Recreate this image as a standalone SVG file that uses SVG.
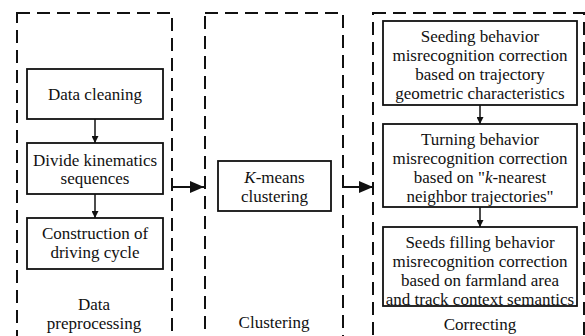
<svg xmlns="http://www.w3.org/2000/svg" width="585" height="336" viewBox="0 0 585 336">
<style>
.grp{fill:none;stroke:#111;stroke-width:2;stroke-dasharray:13 7}
.box{fill:#fff;stroke:#111;stroke-width:1.8}
.t{font-family:'Liberation Serif',serif;font-size:17px;fill:#111;text-anchor:middle}
.c{fill:none;stroke:#111;stroke-width:1.5}
.c2{fill:none;stroke:#111;stroke-width:2}
</style>
<defs>
<marker id="sm" viewBox="0 0 10 10" refX="10" refY="5" markerWidth="7" markerHeight="7" markerUnits="userSpaceOnUse" orient="auto"><path d="M0,0 L10,5 L0,10 z" fill="#111"/></marker>
<marker id="big" viewBox="0 0 10 10" refX="10" refY="5" markerWidth="14" markerHeight="12" markerUnits="userSpaceOnUse" orient="auto" preserveAspectRatio="none"><path d="M0,0 L10,5 L0,10 z" fill="#111"/></marker>
</defs>
<rect width="585" height="336" fill="#fff"/>
<g id="group-preprocessing">
<rect class="grp" x="17" y="13" width="155" height="340"/>
<text class="t" x="94" y="310">Data</text>
<text class="t" x="94" y="329">preprocessing</text>
</g>
<g id="group-clustering">
<rect class="grp" x="205" y="13" width="138" height="340"/>
<text class="t" x="274" y="328">Clustering</text>
</g>
<g id="group-correcting">
<rect class="grp" x="373" y="13" width="211" height="340"/>
<text class="t" x="480" y="330">Correcting</text>
</g>
<g id="data-cleaning">
<rect class="box" x="27" y="69" width="136" height="50"/>
<text class="t" x="95" y="100">Data cleaning</text>
</g>
<g id="divide-kinematics">
<rect class="box" x="27" y="143" width="136" height="51"/>
<text class="t" x="95" y="166">Divide kinematics</text>
<text class="t" x="95" y="184">sequences</text>
</g>
<g id="construction">
<rect class="box" x="27" y="218" width="136" height="51"/>
<text class="t" x="95" y="239">Construction of</text>
<text class="t" x="95" y="258">driving cycle</text>
</g>
<g id="kmeans">
<rect class="box" x="218" y="161" width="113" height="50"/>
<text class="t" x="274.5" y="183"><tspan font-style="italic">K</tspan>-means</text>
<text class="t" x="274.5" y="202">clustering</text>
</g>
<g id="seeding">
<rect class="box" x="383" y="21" width="194" height="84" stroke-width="2"/>
<text class="t" x="480" y="42">Seeding behavior</text>
<text class="t" x="480" y="61">misrecognition correction</text>
<text class="t" x="480" y="80">based on trajectory</text>
<text class="t" x="480" y="99">geometric characteristics</text>
</g>
<g id="turning">
<rect class="box" x="383" y="124" width="194" height="83" stroke-width="2"/>
<text class="t" x="480" y="145">Turning behavior</text>
<text class="t" x="480" y="164">misrecognition correction</text>
<text class="t" x="480" y="183">based on "<tspan font-style="italic">k</tspan>-nearest</text>
<text class="t" x="480" y="202">neighbor trajectories"</text>
</g>
<g id="seeds-filling">
<rect class="box" x="383" y="227" width="194" height="79" stroke-width="2"/>
<text class="t" x="480" y="248">Seeds filling behavior</text>
<text class="t" x="480" y="267">misrecognition correction</text>
<text class="t" x="480" y="286">based on farmland area</text>
<text class="t" x="480" y="305">and track context semantics</text>
</g>
<g id="connectors">
<line class="c" x1="95" y1="119" x2="95" y2="143" marker-end="url(#sm)"/>
<line class="c" x1="95" y1="194" x2="95" y2="218" marker-end="url(#sm)"/>
<line class="c" x1="480" y1="105" x2="480" y2="124" marker-end="url(#sm)"/>
<line class="c" x1="480" y1="207" x2="480" y2="227" marker-end="url(#sm)"/>
<line class="c2" x1="172" y1="187" x2="204" y2="187" marker-end="url(#big)"/>
<line class="c2" x1="343" y1="187" x2="373" y2="187" marker-end="url(#big)"/>
</g>
</svg>
